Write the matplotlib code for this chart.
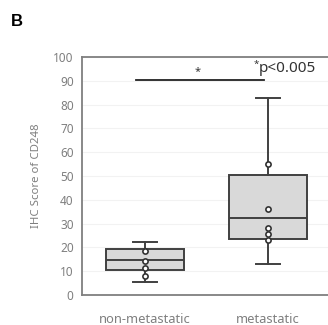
import matplotlib
matplotlib.use("Agg")
import matplotlib.pyplot as plt

categories = ["non-metastatic", "metastatic"]
q1 = [10.4, 23.6]
median = [14.8, 32.4]
q3 = [19.3, 50.3]
whislo = [5.5, 13.0]
whishi = [22.2, 82.7]
points = [[8.0, 11.3, 14.3, 18.3], [23.2, 25.7, 28.1, 36.3, 55.1]]
yticks = [0, 10, 20, 30, 40, 50, 60, 70, 80, 90, 100]
sig_y = 90.3
p_text = "p<0.005"

plt.rcParams['font.family'] = ['Noto Sans', 'DejaVu Sans']
fig = plt.figure(figsize=(3.28, 3.25), dpi=100)
ax = fig.add_axes([82/328, 1-295/325, 1-82/328, (295-57)/325])

stats = []
for i in range(2):
    stats.append(dict(med=median[i], q1=q1[i], q3=q3[i], whislo=whislo[i], whishi=whishi[i], fliers=[], label=categories[i]))
edge = "#404040"
ax.bxp(stats, positions=[1, 2], widths=0.63, patch_artist=True, showfliers=False,
       capwidths=0.19,
       boxprops=dict(facecolor="#d9d9d9", edgecolor=edge, linewidth=1.4),
       medianprops=dict(color=edge, linewidth=1.4),
       whiskerprops=dict(color=edge, linewidth=1.4),
       capprops=dict(color=edge, linewidth=1.4), zorder=2)
for i, pts in enumerate(points):
    ax.scatter([i+1]*len(pts), pts, s=14, facecolor="white", edgecolor="#333333", linewidth=1.2, zorder=3)

ax.set_xlim(0.488, 2.488)
ax.set_ylim(0, 100)
ax.set_yticks(yticks)
ax.set_xticks([1, 2])
ax.set_xticklabels(categories, fontsize=9.3)
ax.yaxis.grid(True, color="#f2f2f2", linewidth=0.8, zorder=0)
ax.set_axisbelow(True)
ax.tick_params(axis='both', length=0, colors="#7f7f7f")
ax.tick_params(axis='y', labelsize=8.5, pad=6)
ax.tick_params(axis='x', pad=13)
for s in ["left", "bottom", "top"]:
    ax.spines[s].set_color("#7f7f7f")
    ax.spines[s].set_linewidth(1.3)
ax.spines["right"].set_visible(False)
ax.set_ylabel("IHC Score of CD248", fontsize=8.2, color="#7f7f7f", labelpad=8)

ax.plot([0.93, 1.97], [sig_y, sig_y], color="#222222", linewidth=1.3, clip_on=False)
ax.text(1.43, sig_y + 1.3, "*", ha="center", va="bottom", fontsize=8, color="#333333")
ax.text(1.905, 96.8, "*", ha="center", va="center", fontsize=7, color="#333333")
ax.text(1.925, 95.0, p_text, ha="left", va="center", fontsize=11, color="#333333")

fig.text(17/328, 1-21/325, "B", fontsize=12, fontweight="bold", ha="center", va="center",
         family="Liberation Sans")
fig.savefig("out.png", dpi=100)
